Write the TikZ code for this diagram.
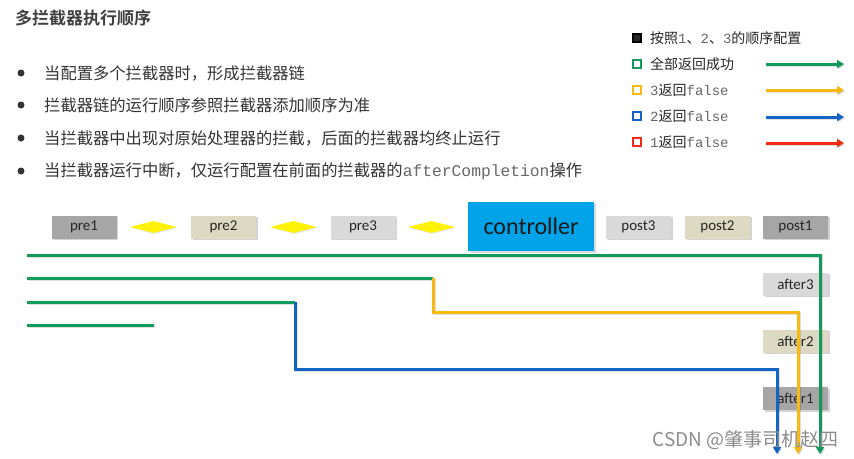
\documentclass[tikz,border=0pt]{standalone}
\usepackage{fontspec}
\setmainfont{Carlito}
\newfontfamily\cjk{Noto Sans CJK SC}
\newfontfamily\cjkb{Noto Sans CJK SC}[BoldFont={Noto Sans CJK SC Bold}]
\newfontfamily\mono{Liberation Mono}
\usetikzlibrary{shapes.geometric,arrows.meta,shadows}
\definecolor{gA}{HTML}{A6A6A6}
\definecolor{gB}{HTML}{DDD9C3}
\definecolor{gC}{HTML}{D9D9D9}
\definecolor{ctl}{HTML}{00A2E8}
\definecolor{lgreen}{HTML}{119A5A}
\definecolor{lyellow}{HTML}{F8BA10}
\definecolor{lblue}{HTML}{1464C4}
\definecolor{lred}{HTML}{F52A14}
\definecolor{txt}{HTML}{333333}
\definecolor{monog}{HTML}{666666}
\tikzset{
  box/.style={minimum width=65pt,minimum height=23pt,inner sep=0pt,font=\fontsize{15}{15}\selectfont,text=black!85,
    drop shadow={shadow xshift=1.5pt,shadow yshift=-1.5pt,opacity=0.35}},
  dia/.style={diamond,fill=yellow,draw=none,minimum width=47pt,minimum height=12pt,inner sep=0pt,aspect=4,
    drop shadow={shadow xshift=1pt,shadow yshift=-1pt,opacity=0.2}},
  flow/.style={line width=3pt,line join=miter,
    preaction={draw=black,opacity=0.12,line width=3pt,transform canvas={shift={(1pt,-1.3pt)}}}},
  tip/.style={-{Triangle[length=7pt,width=8pt]}},
  bul/.style={anchor=west,font=\cjk\fontsize{16.3}{16.3}\selectfont,text=txt,inner sep=0pt},
  leg/.style={anchor=west,font=\cjk\fontsize{14}{14}\selectfont,text=black!85,inner sep=0pt},
  sq/.style={minimum size=8pt,inner sep=0pt,line width=1.8pt,fill=white}
}
\newcommand{\mn}[1]{{\mono\color{monog}#1}}
\begin{document}
\begin{tikzpicture}[x=1pt,y=-1pt]
\useasboundingbox (0,0) rectangle (854,458);
% title
\node[anchor=west,inner sep=0pt,font=\cjkb\bfseries\fontsize{17}{17}\selectfont,text=black!75] (title) at (15,18) {多拦截器执行顺序};
% bullets
\foreach \y/\n in {73/1,105/2,138/3,171/4}{
  \node[circle,fill=txt,inner sep=0pt,minimum size=7pt] (b\n) at (21,\y) {};
}
\node[bul] (t1) at (44,73) {当配置多个拦截器时，形成拦截器链};
\node[bul] (t2) at (44,105) {拦截器链的运行顺序参照拦截器添加顺序为准};
\node[bul] (t3) at (44,138) {当拦截器中出现对原始处理器的拦截，后面的拦截器均终止运行};
\node[bul] (t4) at (44,171) {当拦截器运行中断，仅运行配置在前面的拦截器的\mn{afterCompletion}操作};
% legend
\node[sq,draw=black,fill=black!85] (s0) at (637,38) {};
\node[leg] (l0) at (650,38) {按照\mn{1}、\mn{2}、\mn{3}的顺序配置};
\node[sq,draw=lgreen] (s1) at (637,64) {};
\node[leg] (l1) at (650,64) {全部返回成功};
\node[sq,draw=lyellow] (s2) at (637,90) {};
\node[leg] (l2) at (650,90) {\mn{3}返回\mn{false}};
\node[sq,draw=lblue] (s3) at (637,116) {};
\node[leg] (l3) at (650,116) {\mn{2}返回\mn{false}};
\node[sq,draw=lred] (s4) at (637,142) {};
\node[leg] (l4) at (650,142) {\mn{1}返回\mn{false}};
\foreach \n/\c/\y in {1/lgreen/64,2/lyellow/90,3/lblue/117,4/lred/143}{
  \coordinate (la\n) at (766,\y);
  \coordinate (lb\n) at (844,\y);
  \draw[flow,tip,draw=\c] (la\n) -- (lb\n);
}
% top row
\node[box,fill=gA] (pre1) at (84,227) {pre1};
\node[dia] (d1) at (153.5,227) {};
\node[box,fill=gB] (pre2) at (223.5,227) {pre2};
\node[dia] (d2) at (293.5,227) {};
\node[box,fill=gC] (pre3) at (363,227) {pre3};
\node[dia] (d3) at (431.5,227) {};
\node[fill=ctl,minimum width=126pt,minimum height=49pt,inner sep=0pt,font=\fontsize{24}{24}\selectfont,text=black!90,
  drop shadow={shadow xshift=1.5pt,shadow yshift=-1.5pt,opacity=0.3}] (ctrl) at (531,226.5) {controller};
\node[box,fill=gC] (post3) at (638.5,227) {post3};
\node[box,fill=gB] (post2) at (717.5,227) {post2};
\node[box,fill=gA] (post1) at (795.5,227) {post1};
\node[box,fill=gC] (after3) at (795.5,284) {after3};
\node[box,fill=gB] (after2) at (795.5,341) {after2};
\node[box,fill=gA] (after1) at (795.5,398.5) {after1};
% flows
\coordinate (s1) at (27,255);
\coordinate (e1) at (820,454);
\coordinate (s2) at (27,278);
\coordinate (k2) at (433,278);
\coordinate (e2) at (798,454);
\coordinate (s3) at (27,302);
\coordinate (k3) at (295,302);
\coordinate (e3) at (777,454);
\coordinate (s4) at (27,325);
\coordinate (e4) at (154,325);
\draw[flow,draw=lgreen] (s2) -- (k2);
\draw[flow,draw=lgreen] (s3) -- (k3);
\draw[flow,draw=lgreen] (s4) -- (e4);
\draw[flow,draw=lyellow,tip] (k2) |- (798,312) -- (e2);
\draw[flow,draw=lblue,tip] (k3) |- (777,369) -- (e3);
\draw[flow,draw=lgreen,tip] (s1) -| (e1);
% watermark
\node[anchor=east,inner sep=0pt,font=\cjk\fontsize{19}{19}\selectfont,text=black!45] (wm) at (839,440) {CSDN @肇事司机赵四};
\end{tikzpicture}
\end{document}
